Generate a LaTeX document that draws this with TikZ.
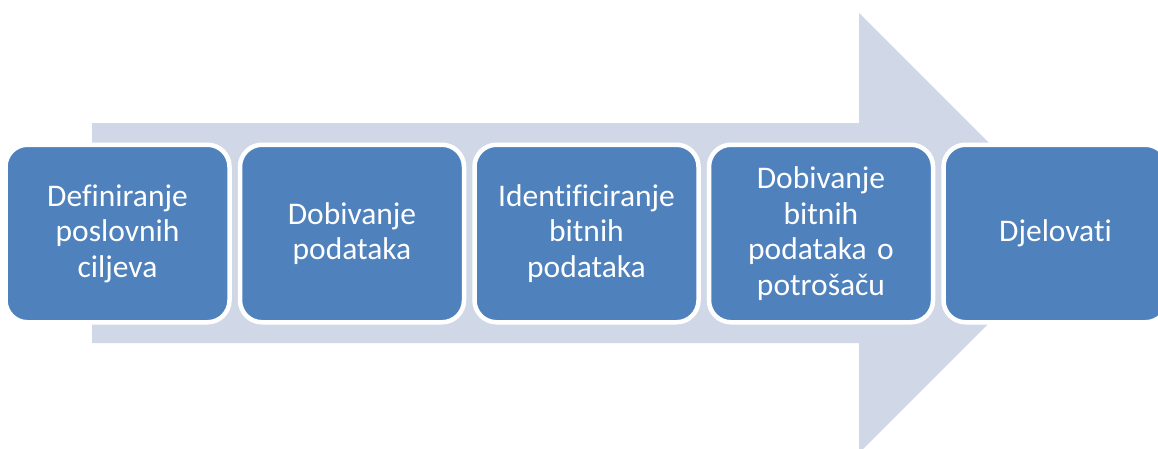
\documentclass[tikz,border=0pt]{standalone}
\usepackage{fontspec}
\setmainfont[Ligatures=NoCommon]{Carlito}
\definecolor{arrowfill}{HTML}{D0D8E8}
\definecolor{boxfill}{HTML}{4F81BD}
\begin{document}
\begin{tikzpicture}[x=1pt,y=-1pt,
  stepbox/.style={draw=white, line width=4.5pt, fill=boxfill, rounded corners=22pt,
    minimum width=224pt, minimum height=177.5pt, text=white, align=center,
    font=\fontsize{31.5}{35.5}\selectfont, inner sep=0pt, text width=215pt}]
\useasboundingbox (0,0) rectangle (1158,448);
\clip (0,0) rectangle (1158,448);
\fill[arrowfill] (92,123) -- (859,123) -- (859,13) -- (1079,233) -- (859,453) -- (859,343) -- (92,343) -- cycle;
\node[stepbox] (s1) at (117.5,233.5) {Definiranje\\poslovnih\\ciljeva};
\node[stepbox] (s2) at (352,233.5) {Dobivanje\\podataka};
\node[stepbox] (s3) at (586.5,233.5) {Identificiranje\\bitnih\\podataka};
\node[stepbox] (s4) at (821,233.5) {Dobivanje\\bitnih\\podataka o\\potrošaču};
\node[stepbox] (s5) at (1055.5,233.5) {Djelovati};
\end{tikzpicture}
\end{document}
